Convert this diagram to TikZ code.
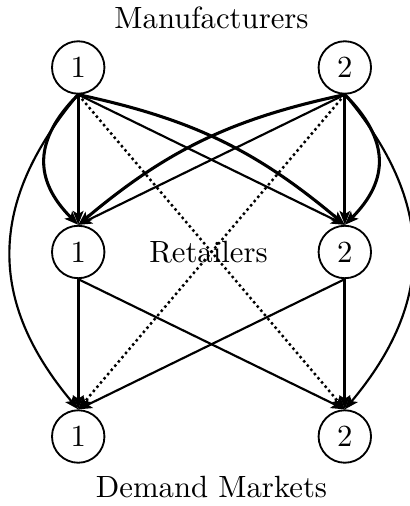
\documentclass[tikz,border=0pt]{standalone}
\usepackage{tikz}
\usetikzlibrary{positioning,arrows.meta}

\begin{document}
\begin{tikzpicture}[
    >={Stealth[length=4.5pt,width=3.4pt,inset=1pt]},
    tier/.style={circle,draw,semithick,minimum size=0.6cm,inner sep=0pt},
    link/.style={->,line width=0.7pt},
    heavy/.style={->,line width=1pt},
    dotlink/.style={->,line width=0.8pt,densely dotted}
]

\useasboundingbox (-0.895,-0.795) rectangle (3.795,4.994);

\node[tier] (m1) at (0,4.222) {1};
\node[tier] (m2) at (3.05,4.222) {2};
\node[tier] (r1) at (0,2.111) {1};
\node[tier] (r2) at (3.05,2.111) {2};
\node[tier] (d1) at (0,0) {1};
\node[tier] (d2) at (3.05,0) {2};

\node (mlabel) at (1.525,4.79) {Manufacturers};
\node (rlabel) at (1.49,2.111) {Retailers};
\node (dlabel) at (1.525,-0.58) {Demand Markets};

% manufacturers to retailers
\draw[heavy] (m1.south) -- (r1.north);
\draw[heavy] (m1.south) to[bend right=45,looseness=1.25] (r1.north);
\draw[link] (m1.south) -- (r2.north);
\draw[heavy] (m1.south) to[bend left=14] (r2.north);

\draw[heavy] (m2.south) -- (r2.north);
\draw[heavy] (m2.south) to[bend left=45,looseness=1.25] (r2.north);
\draw[link] (m2.south) -- (r1.north);
\draw[heavy] (m2.south) to[bend right=14] (r1.north);

% manufacturers straight to demand markets
\draw[link] (m1.south) to[bend right=40,looseness=1.15] (d1.north);
\draw[dotlink] (m1.south) -- (d2.north);
\draw[link] (m2.south) to[bend left=40,looseness=1.15] (d2.north);
\draw[dotlink] (m2.south) -- (d1.north);

% retailers to demand markets
\draw[heavy] (r1.south) -- (d1.north);
\draw[link] (r1.south) -- (d2.north);
\draw[heavy] (r2.south) -- (d2.north);
\draw[link] (r2.south) -- (d1.north);

\end{tikzpicture}
\end{document}
